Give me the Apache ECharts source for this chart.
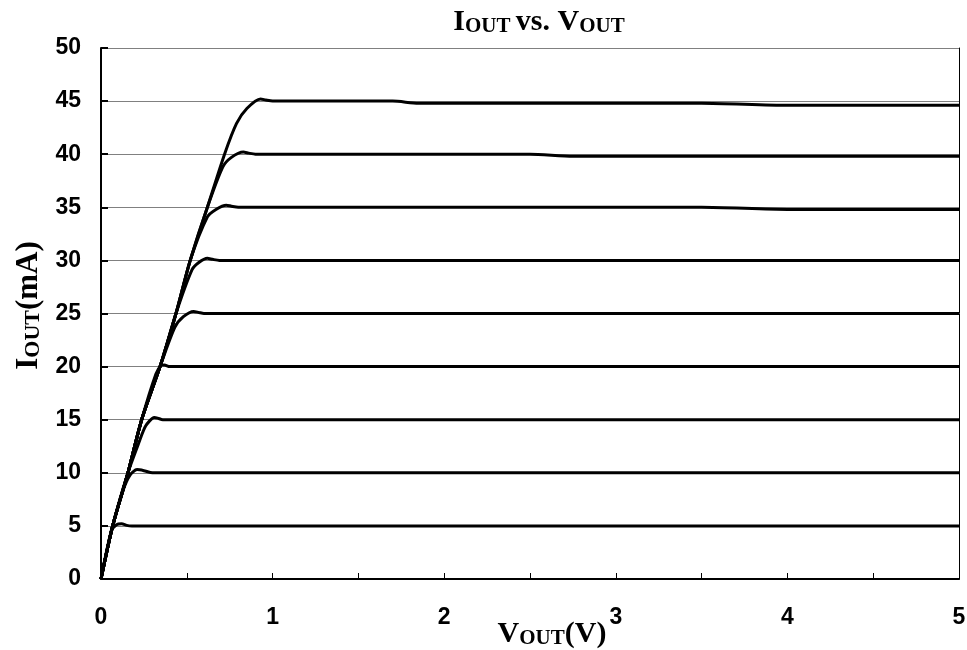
<!DOCTYPE html>
<html><head><meta charset="utf-8">
<script src="https://cdn.jsdelivr.net/npm/echarts@6/dist/echarts.min.js"></script>
<style>html,body{margin:0;padding:0;background:#fff}#c{width:967px;height:650px}</style>
</head><body><div id="c"></div>
<script>
const xTicks = [0, 0.5, 1, 1.5, 2, 2.5, 3, 3.5, 4, 4.5, 5];
const yTicks = [0, 5, 10, 15, 20, 25, 30, 35, 40, 45, 50];
const seriesNames = ['5mA','10mA','15mA','20mA','25mA','30mA','35mA','40mA','45mA'];
const curve5 = [[0,0],[0.06,4.5],[0.09,5.1],[0.12,5.2],[0.15,5.05],[0.18,5],[5,5]];
const curve10 = [[0,0],[0.068,5],[0.13,8.4],[0.17,9.8],[0.21,10.3],[0.25,10.2],[0.3,10],[5,10]];
const curve15 = [[0,0],[0.068,5],[0.157,10],[0.22,12.8],[0.26,14.4],[0.31,15.2],[0.33,15.15],[0.36,15],[5,15]];
const curve20 = [[0,0],[0.068,5],[0.157,10],[0.237,15],[0.32,19.3],[0.35,20.1],[0.37,20.15],[0.4,20],[5,20]];
const curve25 = [[0,0],[0.068,5],[0.157,10],[0.237,15],[0.344,20],[0.43,23.7],[0.48,24.7],[0.54,25.2],[0.57,25.1],[0.6,25],[5,25]];
const curve30 = [[0,0],[0.068,5],[0.157,10],[0.237,15],[0.344,20],[0.437,25],[0.53,29.1],[0.57,29.8],[0.62,30.2],[0.65,30.1],[0.69,30],[5,30]];
const curve35 = [[0,0],[0.068,5],[0.157,10],[0.237,15],[0.344,20],[0.437,25],[0.52,30],[0.62,34.1],[0.67,34.8],[0.73,35.2],[0.76,35.1],[0.8,35],[3.5,35],[4.0,34.8],[5,34.8]];
const curve40 = [[0,0],[0.068,5],[0.157,10],[0.237,15],[0.344,20],[0.437,25],[0.52,30],[0.62,35],[0.71,38.8],[0.76,39.7],[0.83,40.2],[0.86,40.1],[0.9,40],[2.5,40],[2.75,39.8],[5,39.8]];
const curve45 = [[0,0],[0.068,5],[0.157,10],[0.237,15],[0.344,20],[0.437,25],[0.52,30],[0.62,35],[0.72,40],[0.79,42.9],[0.85,44.3],[0.93,45.2],[0.96,45.1],[1.0,45],[1.7,45],[1.85,44.8],[3.5,44.8],[4.0,44.6],[5,44.6]];
const curves = [curve5,curve10,curve15,curve20,curve25,curve30,curve35,curve40,curve45];

const serif = '"Liberation Serif","Times New Roman",serif';
const sans = '"Liberation Sans",Arial,sans-serif';
const richX = {
  a: {fontFamily: serif, fontWeight: 'bold', fontSize: 30, color: '#000', verticalAlign: 'bottom', lineHeight: 32},
  b: {fontFamily: serif, fontWeight: 'bold', fontSize: 21, color: '#000', verticalAlign: 'bottom', lineHeight: 25}
};
const richY = {
  a: {fontFamily: serif, fontWeight: 'bold', fontSize: 31, color: '#000', verticalAlign: 'bottom', lineHeight: 33},
  b: {fontFamily: serif, fontWeight: 'bold', fontSize: 22, color: '#000', verticalAlign: 'bottom', lineHeight: 26}
};
const chart = echarts.init(document.getElementById('c'), null, {renderer: 'canvas'});
chart.setOption({
  animation: false,
  backgroundColor: '#fff',
  title: {
    text: '{a|I}{b|OUT }{a|vs. V}{b|OUT}',
    left: 534, top: 0, textAlign: 'center',
    textStyle: {rich: {
      a: {fontFamily: serif, fontWeight: 'bold', fontSize: 30, color: '#000', verticalAlign: 'bottom', lineHeight: 32},
      b: {fontFamily: serif, fontWeight: 'bold', fontSize: 21, color: '#000', verticalAlign: 'bottom', lineHeight: 25}
    }}
  },
  grid: {left: 101, right: 8, top: 48, bottom: 71, containLabel: false, outerBoundsMode: 'none'},
  xAxis: {
    type: 'value', min: 0, max: 5, interval: 0.5,
    name: '{a|V}{b|OUT}{a|(V)}', nameLocation: 'middle', nameGap: 38, nameMoveOverlap: false,
    nameTextStyle: {rich: richX, padding: [0, 0, 0, 44]},
    axisLine: {lineStyle: {color: '#000', width: 2}},
    axisTick: {inside: true, length: 6, lineStyle: {color: '#000', width: 1}},
    axisLabel: {fontFamily: sans, fontWeight: 'bold', fontSize: 23, color: '#000', margin: 27,
      formatter: v => (Math.abs(v - Math.round(v)) < 1e-9 ? String(Math.round(v)) : '')},
    splitLine: {show: false}
  },
  yAxis: [{
    type: 'value', min: 0, max: 50, interval: 5,
    name: '{a|I}{b|OUT}{a|(mA)}', nameLocation: 'middle', nameGap: 57, nameRotate: 90, nameMoveOverlap: false,
    nameTextStyle: {rich: richY, padding: [0, 0, 0, 16]},
    axisLine: {lineStyle: {color: '#000', width: 2}},
    axisTick: {inside: true, length: 7, lineStyle: {color: '#000', width: 2}},
    axisLabel: {fontFamily: sans, fontWeight: 'bold', fontSize: 23, color: '#000', margin: 20},
    splitLine: {show: true, lineStyle: {color: '#808080', width: 1}}
  }, {
    type: 'value', min: 0, max: 50, interval: 5, position: 'right',
    axisLine: {show: true, lineStyle: {color: '#000', width: 1}},
    axisTick: {show: false}, axisLabel: {show: false}, splitLine: {show: false}
  }],
  series: curves.map((d, i) => ({
    name: seriesNames[i], type: 'line', data: d,
    showSymbol: false, smooth: 0.25,
    lineStyle: {color: '#000', width: 3}, z: 3
  }))
});
</script></body></html>
